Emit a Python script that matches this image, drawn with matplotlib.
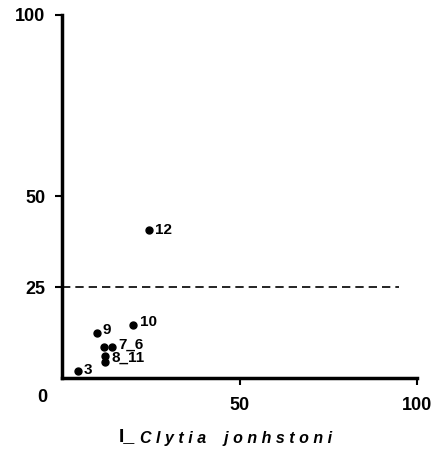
import matplotlib.pyplot as plt

# station values
labels = ['3', '9', '10', '7', '6', '8', '11', '12']
xs = [4.5, 9.9, 20.0, 11.8, 14.1, 12.1, 12.1, 24.5]
ys = [1.9, 12.4, 14.6, 8.5, 8.5, 6.1, 4.4, 40.8]
threshold = 25
xticks = [50, 100]
yticks = [25, 50, 100]

plt.rcParams['font.family'] = ['Liberation Sans', 'DejaVu Sans']
plt.rcParams['font.weight'] = 'bold'

fig = plt.figure(figsize=(4.46, 4.59), dpi=100)
ax = fig.add_axes([0.139, 0.1765, 0.796, 0.791])

ax.plot(xs, ys, 'o', color='black', markersize=5)
ax.plot([0, 95], [threshold, threshold], color='black', linestyle=(0, (5, 3)), linewidth=1.2)

# point labels (paired stations share one label)
fs = 11
ax.text(xs[0] + 1.5, ys[0] + 0.3, '3', fontsize=fs, va='center', fontweight='bold')
ax.text(xs[1] + 1.5, ys[1] + 0.9, '9', fontsize=fs, va='center', fontweight='bold')
ax.text(xs[2] + 2.0, ys[2] + 0.8, '10', fontsize=fs, va='center', fontweight='bold')
ax.text(xs[4] + 1.8, ys[4] + 0.8, '7_6', fontsize=fs, va='center', fontweight='bold')
ax.text(xs[5] + 1.8, ys[5] - 0.6, '8_11', fontsize=fs, va='center', fontweight='bold')
ax.text(xs[7] + 1.8, ys[7], '12', fontsize=fs, va='center', fontweight='bold')

ax.set_xlim(0, 100)
ax.set_ylim(0, 100)
ax.set_xticks(xticks)
ax.set_yticks(yticks)
ax.tick_params(axis='both', labelsize=13, width=1.5, length=5, direction='out')
ax.tick_params(axis='x', pad=9)
ax.tick_params(axis='y', pad=7)
for s in ['top', 'right']:
    ax.spines[s].set_visible(False)
for s in ['left', 'bottom']:
    ax.spines[s].set_linewidth(2.5)

fig.text(42 / 446, 1 - 397 / 459, '0', fontsize=13, fontweight='bold', ha='center', va='center')
fig.text(119 / 446, 1 - 437 / 459, 'I_', fontsize=14, fontweight='bold', ha='left', va='center')
fig.text(140 / 446, 1 - 439 / 459, 'C l y t i a    j o n h s t o n i', fontsize=11.5,
         fontweight='bold', style='italic', ha='left', va='center')

fig.savefig('out.png', dpi=100)
